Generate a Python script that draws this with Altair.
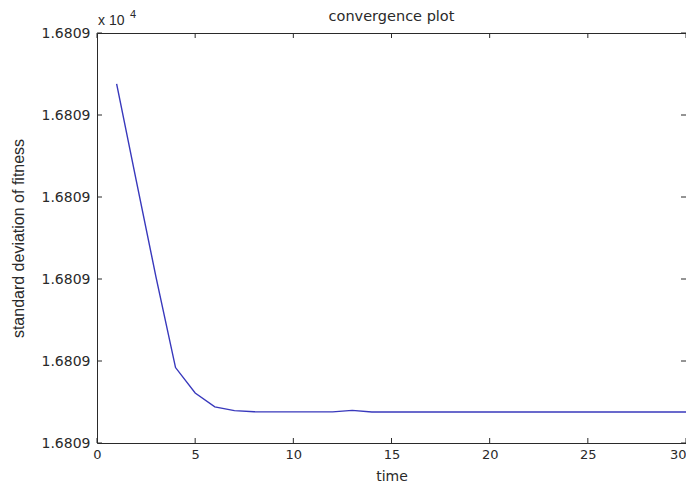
import altair as alt
import pandas as pd

# time steps and standard deviation of fitness (offset units above 1.6809e4 baseline; axis labels all read 1.6809)
time = list(range(1, 31))
std_dev = [4.38, 3.20, 2.03, 0.92, 0.61, 0.44, 0.395, 0.382, 0.380, 0.380,
           0.380, 0.380, 0.398, 0.378, 0.378, 0.378, 0.378, 0.378, 0.378, 0.378,
           0.378, 0.378, 0.378, 0.378, 0.378, 0.378, 0.378, 0.378, 0.378, 0.378]
x_ticks = [0, 5, 10, 15, 20, 25, 30]
y_ticks = [0, 1, 2, 3, 4, 5]

df = pd.DataFrame({"time": time, "std": std_dev})
xt = pd.DataFrame({"t": x_ticks})
yt = pd.DataFrame({"v": y_ticks})

W, H = 589, 410
xs = alt.Scale(domain=[0, 30], nice=False)
ys = alt.Scale(domain=[0, 5], nice=False)
FONT = "DejaVu Sans"
FONT2 = "Liberation Sans"
INK = "#2a2a2a"

line = alt.Chart(df).mark_line(color="#3838bc", strokeWidth=1.4).encode(
    x=alt.X("time:Q", scale=xs, axis=alt.Axis(
        values=x_ticks, title="time", tickSize=0, labelPadding=5, domain=False,
        labelAlign={"condition": {"test": "datum.value >= 30", "value": "right"}, "value": "center"},
        grid=False, labelFontSize=13, titleFontSize=14, titleFontWeight="normal",
        titlePadding=8, labelColor=INK, titleColor=INK, labelFont=FONT, titleFont=FONT)),
    y=alt.Y("std:Q", scale=ys, axis=alt.Axis(
        values=y_ticks, title="standard deviation of fitness", labelExpr="'1.6809'",
        tickSize=0, labelPadding=7, domain=False, grid=False, labelFontSize=14,
        titleFontSize=16, titleFontWeight="normal", titlePadding=15,
        labelColor=INK, titleColor=INK, labelFont=FONT, titleFont=FONT2)),
)

tick_len = 5
bottom_ticks = alt.Chart(xt).mark_rule(color=INK).encode(
    x=alt.X("t:Q", scale=xs), y=alt.value(H), y2=alt.value(H - tick_len))
top_ticks = alt.Chart(xt).mark_rule(color=INK).encode(
    x=alt.X("t:Q", scale=xs), y=alt.value(0), y2=alt.value(tick_len))
left_ticks = alt.Chart(yt).mark_rule(color=INK).encode(
    y=alt.Y("v:Q", scale=ys), x=alt.value(0), x2=alt.value(tick_len))
right_ticks = alt.Chart(yt).mark_rule(color=INK).encode(
    y=alt.Y("v:Q", scale=ys), x=alt.value(W), x2=alt.value(W - tick_len))

exp_df = pd.DataFrame({"base": ["x 10"], "exp": ["4"]})
exp_base = alt.Chart(exp_df).mark_text(
    align="left", baseline="middle", fontSize=14, font=FONT2, color=INK
).encode(text="base:N", x=alt.value(1), y=alt.value(-12))
exp_sup = alt.Chart(exp_df).mark_text(
    align="left", baseline="middle", fontSize=11, font=FONT2, color=INK
).encode(text="exp:N", x=alt.value(33), y=alt.value(-18))

chart = alt.layer(line, bottom_ticks, top_ticks, left_ticks, right_ticks, exp_base, exp_sup).properties(
    width=W, height=H,
    title=alt.TitleParams("convergence plot", fontSize=14.5, fontWeight="normal", font=FONT,
                          color=INK, anchor="middle", offset=-15),
    autosize=alt.AutoSizeParams(type="none"),
    padding={"left": 89, "top": 25, "right": 0, "bottom": 42},
    background="white",
).configure_view(stroke=INK, strokeWidth=1)

chart.save("out.html", embed_options={"renderer": "svg", "actions": False})
